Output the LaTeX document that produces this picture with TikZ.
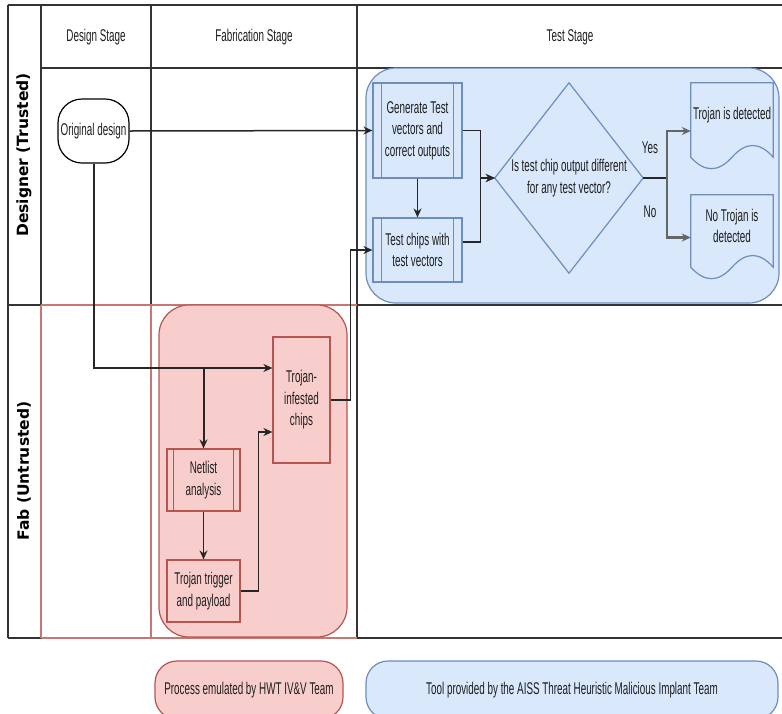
\documentclass[tikz,border=0pt]{standalone}
\usepackage{fontspec}
\setmainfont{Liberation Sans}[FakeStretch=0.58]
\newfontfamily\lanefont{DejaVu Sans}
\usetikzlibrary{arrows.meta,calc}
\definecolor{redfill}{HTML}{F8CECC}
\definecolor{redline}{HTML}{B85450}
\definecolor{bluefill}{HTML}{DAE8FC}
\definecolor{blueline}{HTML}{6C8EBF}
\definecolor{gridc}{HTML}{333333}
\definecolor{txt}{HTML}{1E1E1E}
\newcommand\mydocshape[1]{%
  \draw[blueline,fill=bluefill,line width=1.2pt] (#1.north west) -- (#1.north east) -- ($(#1.south east)+(0,-13)$)
   .. controls ($(#1.south east)+(-13.7,-28.6)$) and ($(#1.south east)+(-27.3,-28.6)$) .. ($(#1.south)+(0,-13)$)
   .. controls ($(#1.south)+(-13.7,2.3)$) and ($(#1.south west)+(13.7,2.3)$) .. ($(#1.south west)+(0,-13)$) -- cycle;}
\begin{document}
\begin{tikzpicture}[x=1pt,y=-1pt,
  every node/.style={font=\fontsize{17}{21.5}\selectfont, text=txt, align=center, inner sep=0pt},
  grid/.style={gridc, line width=1.6pt},
  redgrid/.style={redline!80, line width=1.3pt},
  bluebox/.style={draw=blueline, fill=bluefill, line width=1.2pt},
  redbox/.style={draw=redline, fill=redfill, line width=1.2pt},
  arr/.style={black!85, line width=1.5pt, -{Stealth[length=9pt,width=8pt]}},
  arrg/.style={black!60, line width=2.2pt, -{Stealth[length=9pt,width=8pt]}},
  lane/.style={rotate=90, font=\lanefont\bfseries\fontsize{15.5}{18}\selectfont, text=black},
]
\useasboundingbox (0,0) rectangle (782,713);
\clip (0,0) rectangle (782,713);
% grid
\draw[gridc, line width=2.2pt] (8,5) -- (782,5);
\draw[grid] (8,5) -- (8,638);
\draw[grid] (41,5) -- (41,305);
\draw[grid] (151,5) -- (151,305);
\draw[grid] (357,5) -- (357,638);
\draw[grid] (41,68) -- (782,68);
\draw[grid] (8,305) -- (41,305);
\draw[grid] (357,305) -- (782,305);
\draw[grid] (8,638) -- (41,638);
\draw[grid] (357,638) -- (782,638);
\draw[redgrid] (41,305) -- (357,305);
\draw[redgrid] (41,305) -- (41,638);
\draw[redgrid] (151,305) -- (151,638);
\draw[redgrid] (41,638) -- (357,638);
% headers
\node (h1) at (96,37) {Design Stage};
\node (h2) at (254,37) {Fabrication Stage};
\node (h3) at (570,37) {Test Stage};
\node[lane] (l1) at (24,155) {Designer (Trusted)};
\node[lane] (l2) at (24,471) {Fab (Untrusted)};
% regions
\draw[blueline, fill=bluefill, line width=1.2pt, rounded corners=30pt] (366,68) rectangle (779,303);
\draw[redline, fill=redfill, line width=1.2pt, rounded corners=30pt] (159,305) rectangle (347,637);
% nodes
\node[draw=black, fill=white, line width=1.2pt, rounded corners=24pt, minimum width=71pt, minimum height=64pt] (orig) at (93.5,131) {Original design};
\node[bluebox, minimum width=89pt, minimum height=95pt] (gen) at (417.5,130.5) {Generate Test\\vectors and\\correct outputs};
\node[bluebox, minimum width=89pt, minimum height=64pt] (tcw) at (417.5,250) {Test chips with\\test vectors};
\foreach \n in {gen,tcw}{
  \draw[blueline, line width=1.2pt] ($(\n.north west)+(9,0)$) -- ($(\n.south west)+(9,0)$);
  \draw[blueline, line width=1.2pt] ($(\n.north east)+(-9,0)$) -- ($(\n.south east)+(-9,0)$);
}
\node[minimum width=148pt, minimum height=190pt] (dia) at (569,178) {};
\draw[blueline, fill=bluefill, line width=1.2pt] (dia.west) -- (dia.north) -- (dia.east) -- (dia.south) -- cycle;
\node (diat) at (569,178) {Is test chip output different\\for any test vector?};
\node[minimum width=82pt, minimum height=87pt] (doc1) at (732,126.5) {};
\mydocshape{doc1}
\node (doc1t) at (732,115) {Trojan is detected};
\node[minimum width=82pt, minimum height=85pt] (doc2) at (732,237.5) {};
\mydocshape{doc2}
\node (doc2t) at (732,226) {No Trojan is\\detected};
\node (yes) at (650,148) {Yes};
\node (no) at (650,212) {No};
% fab nodes
\node[redbox, minimum width=57pt, minimum height=126pt] (tic) at (301.5,400) {Trojan-\\infested\\chips};
\node[redbox, minimum width=73pt, minimum height=62pt] (net) at (203.5,480) {Netlist\\analysis};
\draw[redline, line width=1.2pt] ($(net.north west)+(7,0)$) -- ($(net.south west)+(7,0)$);
\draw[redline, line width=1.2pt] ($(net.north east)+(-7,0)$) -- ($(net.south east)+(-7,0)$);
\node[redbox, minimum width=73pt, minimum height=62pt] (trig) at (203.5,591) {Trojan trigger\\and payload};
% connectors
\coordinate (br) at (203.5,368);
\draw[arr] (orig.east) -- (gen.west);
\draw[arr] (gen.south) -- (tcw.north);
\draw[arr] (gen.east) -- ++(18,0) |- (dia.west);
\draw[arr] ([yshift=8pt]tcw.east) -- ++(18,0) |- (dia.west);
\coordinate (split) at ($(dia.east)+(24,0)$);
\draw[black!85, line width=1.5pt] (dia.east) -- (split);
\draw[arrg] (split) |- ([yshift=-4.5pt]doc1.west);
\draw[arrg] (split) |- (doc2.west);
\draw[arr] (orig.south) |- ([yshift=32pt]tic.west);
\draw[arr, line width=2pt] (orig.south) |- (br) -- (net.north);
\draw[arr] (net.south) -- (trig.north);
\draw[arr] (trig.east) -- ++(18,0) |- ([yshift=-32pt]tic.west);
\draw[arr] (tic.east) -- ++(20,0) |- (tcw.west);
% legend
\node[redbox, rounded corners=22pt, minimum width=188pt, minimum height=58pt] (leg1) at (249,690) {Process emulated by HWT IV\&V Team};
\node[bluebox, rounded corners=22pt, minimum width=412pt, minimum height=58pt] (leg2) at (572,690) {Tool provided by the AISS Threat Heuristic Malicious Implant Team};
\end{tikzpicture}
\end{document}
